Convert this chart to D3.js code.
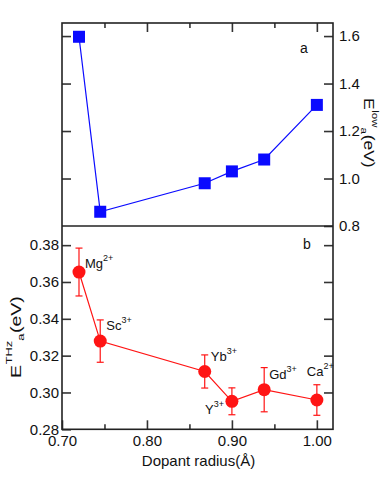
<!DOCTYPE html>
<html>
<head>
    <title>Activation energy vs dopant radius</title>
    <script src="https://cdnjs.cloudflare.com/ajax/libs/d3/7.8.5/d3.min.js" charset="utf-8"></script>
    <style>
    body { margin:0; background:#fff; }
    svg text { font-family:"Liberation Sans", Arial, sans-serif; fill:#111; }
    .axis line { stroke:#333; stroke-width:1.6px; }
    .axis path { display:none; }
    .axis text { font-size:15px; }
    </style>
</head>
<body>
<div class='chart'></div>
<script>
// dopant ionic radius (A) for each sample
var radius = [0.72, 0.745, 0.868, 0.90, 0.938, 1.00];
var dopant = ['Mg', 'Sc', 'Yb', 'Y', 'Gd', 'Ca'];
var charge = ['2+', '3+', '3+', '3+', '3+', '2+'];
// panel a: low temperature activation energy (eV)
var eLow = [1.597, 0.86, 0.98, 1.03, 1.08, 1.31];
// panel b: THz activation energy (eV) and its error
var eTHz = [0.3654, 0.3279, 0.3114, 0.2952, 0.3015, 0.2959];
var eTHzErr = [0.013, 0.0115, 0.009, 0.0073, 0.012, 0.0083];
// ticks
var xMajor = [0.70, 0.80, 0.90, 1.00];
var xMinor = [0.75, 0.85, 0.95];
var yLowTicks = [0.8, 1.0, 1.2, 1.4, 1.6];
var yTHzTicks = [0.28, 0.30, 0.32, 0.34, 0.36, 0.38];

var width = 389, height = 485;
var plotLeft = 62, plotRight = 333, plotTop = 23, plotMid = 226, plotBottom = 429.3;

var svg = d3.select('.chart').append('svg')
    .attr('width', width)
    .attr('height', height);

var x = d3.scaleLinear().domain([0.70, 1.019]).range([plotLeft, plotRight]);
var yA = d3.scaleLinear().domain([0.8, 1.655]).range([plotMid, plotTop]);
var yB = d3.scaleLinear().domain([0.28, 0.3904]).range([plotBottom, plotMid]);

function addAxis(axis, tx, ty) {
    svg.append('g').attr('class', 'axis')
        .attr('transform', 'translate(' + tx + ',' + ty + ')')
        .call(axis);
}

// panel a axes
addAxis(d3.axisRight(yA).tickValues(yLowTicks).tickSize(-9).tickPadding(6).tickFormat(d3.format('.1f')), plotRight, 0);
addAxis(d3.axisLeft(yA).tickValues(yLowTicks.slice(1)).tickSize(-9).tickFormat(''), plotLeft, 0);
addAxis(d3.axisTop(x).tickValues(xMajor.slice(1)).tickSize(-9).tickFormat(''), 0, plotTop);
addAxis(d3.axisTop(x).tickValues(xMinor).tickSize(-5).tickFormat(''), 0, plotTop);

// panel b axes
addAxis(d3.axisLeft(yB).tickValues(yTHzTicks).tickSize(-9).tickPadding(3).tickFormat(d3.format('.2f')), plotLeft, 0);
addAxis(d3.axisRight(yB).tickValues(yTHzTicks.slice(1)).tickSize(-9).tickFormat(''), plotRight, 0);
addAxis(d3.axisBottom(x).tickValues(xMajor).tickSize(-9).tickPadding(6).tickFormat(d3.format('.2f')), 0, plotBottom);
addAxis(d3.axisBottom(x).tickValues(xMinor).tickSize(-5).tickFormat(''), 0, plotBottom);

// frame and divider
svg.append('rect')
    .attr('x', plotLeft).attr('y', plotTop)
    .attr('width', plotRight - plotLeft).attr('height', plotBottom - plotTop)
    .attr('fill', 'none').attr('stroke', '#222').attr('stroke-width', 1.6);
svg.append('line')
    .attr('x1', plotLeft).attr('x2', plotRight).attr('y1', plotMid).attr('y2', plotMid)
    .attr('stroke', '#222').attr('stroke-width', 1.6);

// panel a data
var blue = '#0a0aff';
svg.append('path')
    .attr('d', d3.line().x(function(d, i) { return x(radius[i]); }).y(function(d) { return yA(d); })(eLow))
    .attr('fill', 'none').attr('stroke', blue).attr('stroke-width', 1.2);
svg.selectAll('.sq').data(eLow).enter().append('rect')
    .attr('class', 'sq')
    .attr('x', function(d, i) { return x(radius[i]) - 6; })
    .attr('y', function(d) { return yA(d) - 6; })
    .attr('width', 12).attr('height', 12)
    .attr('fill', blue);

// panel b data
var red = '#ff1414';
svg.append('path')
    .attr('d', d3.line().x(function(d, i) { return x(radius[i]); }).y(function(d) { return yB(d); })(eTHz))
    .attr('fill', 'none').attr('stroke', red).attr('stroke-width', 1.2);
var eb = svg.selectAll('.eb').data(eTHz).enter().append('g').attr('class', 'eb');
eb.append('line')
    .attr('x1', function(d, i) { return x(radius[i]); })
    .attr('x2', function(d, i) { return x(radius[i]); })
    .attr('y1', function(d, i) { return yB(d + eTHzErr[i]); })
    .attr('y2', function(d, i) { return yB(d - eTHzErr[i]); })
    .attr('stroke', red).attr('stroke-width', 1.2);
[1, -1].forEach(function(s) {
    eb.append('line')
        .attr('x1', function(d, i) { return x(radius[i]) - 3.5; })
        .attr('x2', function(d, i) { return x(radius[i]) + 3.5; })
        .attr('y1', function(d, i) { return yB(d + s * eTHzErr[i]); })
        .attr('y2', function(d, i) { return yB(d + s * eTHzErr[i]); })
        .attr('stroke', red).attr('stroke-width', 1.2);
});
svg.selectAll('.dot').data(eTHz).enter().append('circle')
    .attr('class', 'dot')
    .attr('cx', function(d, i) { return x(radius[i]); })
    .attr('cy', function(d) { return yB(d); })
    .attr('r', 6.5)
    .attr('fill', red);

// ion labels, offset from each point: [dx, dy, anchor]
var labelPos = [[6, -4, 'start'], [6, -11, 'start'], [6, -10, 'start'],
                [-8, 13, 'end'], [5, -11, 'start'], [-10, -24, 'start']];
dopant.forEach(function(name, i) {
    var t = svg.append('text')
        .attr('x', x(radius[i]) + labelPos[i][0])
        .attr('y', yB(eTHz[i]) + labelPos[i][1])
        .attr('text-anchor', labelPos[i][2])
        .style('font-size', '13px');
    t.append('tspan').text(name);
    t.append('tspan').attr('dy', -7).style('font-size', '9px').text(charge[i]);
});

// panel letters
svg.append('text').attr('x', 300).attr('y', 53).style('font-size', '14px').text('a');
svg.append('text').attr('x', 303).attr('y', 249).style('font-size', '14px').text('b');

// x axis title
svg.append('text')
    .attr('x', (plotLeft + plotRight) / 2 + 1).attr('y', 466)
    .attr('text-anchor', 'middle')
    .style('font-size', '15px')
    .text('Dopant radius(\u00c5)');

// rotated axis labels: E, superscript, subscript, (eV) in a row, stretched along the text
function energyLabel(tx, ty, angle, stretch, sup, sub, size) {
    var g = svg.append('g')
        .attr('transform', 'translate(' + tx + ',' + ty + ') rotate(' + angle + ') scale(' + stretch + ',1)');
    var small = size * 0.66;
    var e = g.append('text').style('font-size', size + 'px').text('E');
    var pos = e.node().getComputedTextLength() + 0.5;
    var s1 = g.append('text').attr('x', pos).attr('y', -size * 0.6).style('font-size', small + 'px').text(sup);
    pos += s1.node().getComputedTextLength();
    var s2 = g.append('text').attr('x', pos).attr('y', size * 0.2).style('font-size', small + 'px').text(sub);
    pos += s2.node().getComputedTextLength() + 0.5;
    g.append('text').attr('x', pos).style('font-size', size + 'px').text('(eV)');
}
energyLabel(364, 98, 90, 1.25, 'low', 'a', 14);
energyLabel(21, 378, -90, 1.3, 'THz', 'a', 15);
</script>
</body>
</html>
